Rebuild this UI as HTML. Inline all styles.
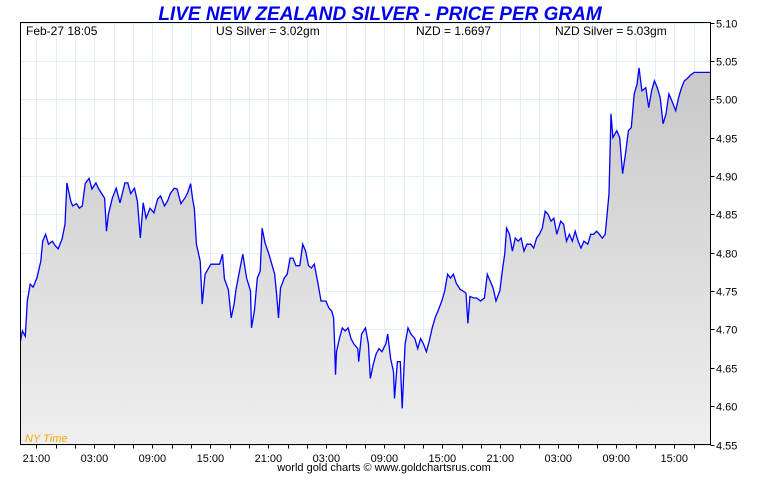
<!DOCTYPE html>
<html><head><meta charset="utf-8"><style>
body{margin:0;background:#fff;}
svg text{font-family:"Liberation Sans",sans-serif;}
</style></head><body>
<svg id="chart" width="760" height="475" viewBox="0 0 760 475" xmlns="http://www.w3.org/2000/svg">
<defs>
<linearGradient id="fillg" x1="0" y1="0" x2="0" y2="1">
<stop offset="0" stop-color="#c8c8c8"/><stop offset="1" stop-color="#efefef"/>
</linearGradient>
</defs>
<text x="380" y="20" text-anchor="middle" font-size="19" font-weight="bold" font-style="italic" fill="#0000ee">LIVE NEW ZEALAND SILVER - PRICE PER GRAM</text>
<g id="grid"></g>
<path id="area" fill="url(#fillg)"></path>
<path id="line" fill="none" stroke="#0000ff" stroke-width="1.3"></path>
<rect x="20.5" y="22.5" width="690" height="422" fill="none" stroke="#000" stroke-width="1"/>
<g id="yaxis"></g>
<g id="xaxis"></g>
<text x="26" y="35" font-size="12" fill="#000">Feb-27  18:05</text>
<text x="216" y="35" font-size="12" fill="#000">US Silver = 3.02gm</text>
<text x="416" y="35" font-size="12" fill="#000">NZD = 1.6697</text>
<text x="555" y="35" font-size="12" fill="#000">NZD Silver = 5.03gm</text>
<text x="25" y="442" font-size="11" font-style="italic" fill="#f5a800">NY Time</text>
<text x="384" y="471" text-anchor="middle" font-size="11" fill="#000">world gold charts © www.goldchartsrus.com</text>
</svg>
<script>
const times=[0,0.2,0.5,0.7,1.0,1.3,1.7,2.1,2.3,2.6,2.9,3.3,3.6,3.9,4.3,4.6,4.8,5.2,5.4,5.8,6.1,6.4,6.7,7.1,7.4,7.8,8.1,8.4,8.7,8.9,9.1,9.5,9.9,10.3,10.8,11.1,11.4,11.8,12.1,12.4,12.7,13.0,13.4,13.8,14.2,14.5,14.9,15.2,15.5,15.9,16.2,16.6,17.0,17.3,17.6,17.8,18.0,18.2,18.6,18.8,19.1,19.7,20.2,20.6,20.9,21.1,21.5,21.8,22.1,22.3,22.8,23.0,23.4,23.8,23.9,24.2,24.5,24.8,25.0,25.3,25.7,26.0,26.3,26.5,26.7,26.9,27.3,27.6,27.9,28.2,28.5,28.9,29.2,29.5,29.8,30.1,30.4,30.8,31.1,31.6,31.9,32.2,32.4,32.5,32.6,32.7,33.0,33.3,33.6,33.9,34.2,34.5,34.9,35.0,35.3,35.7,36.0,36.2,36.5,36.8,37.1,37.4,37.8,38.0,38.3,38.6,38.7,39.0,39.3,39.5,39.8,40.1,40.4,40.8,41.1,41.4,41.7,42.0,42.3,42.6,42.9,43.2,43.6,43.9,44.2,44.5,44.8,45.1,45.5,45.8,46.1,46.3,46.5,46.9,47.2,47.6,48.0,48.3,48.6,48.9,49.2,49.6,49.9,50.1,50.3,50.6,50.9,51.2,51.5,51.8,52.1,52.4,52.8,53.1,53.4,53.7,54.0,54.3,54.6,54.9,55.2,55.5,55.9,56.2,56.5,56.8,57.1,57.4,57.7,58.0,58.3,58.7,59.0,59.3,59.6,59.9,60.2,60.5,60.7,60.9,61.1,61.3,61.7,62.0,62.3,62.6,62.9,63.2,63.5,63.8,64.0,64.3,64.7,65.0,65.3,65.6,65.9,66.2,66.5,66.8,67.1,67.4,67.8,68.1,68.4,68.7,69.0,69.3,69.7,70.1,71.4];
const prices=[4.685,4.698,4.691,4.737,4.759,4.755,4.767,4.789,4.815,4.824,4.811,4.815,4.809,4.805,4.818,4.837,4.891,4.867,4.861,4.864,4.858,4.861,4.890,4.897,4.883,4.891,4.883,4.877,4.871,4.828,4.850,4.871,4.884,4.865,4.891,4.891,4.877,4.884,4.867,4.819,4.865,4.845,4.858,4.852,4.870,4.874,4.861,4.867,4.877,4.884,4.883,4.864,4.871,4.878,4.890,4.871,4.857,4.811,4.789,4.733,4.772,4.785,4.785,4.785,4.798,4.766,4.752,4.715,4.733,4.752,4.785,4.798,4.767,4.750,4.702,4.724,4.767,4.776,4.832,4.813,4.798,4.785,4.772,4.746,4.715,4.754,4.767,4.772,4.793,4.793,4.783,4.783,4.811,4.802,4.783,4.780,4.785,4.759,4.737,4.737,4.728,4.724,4.715,4.681,4.641,4.671,4.688,4.702,4.698,4.702,4.688,4.681,4.675,4.658,4.694,4.702,4.681,4.636,4.654,4.668,4.675,4.671,4.681,4.694,4.662,4.645,4.610,4.658,4.658,4.597,4.681,4.702,4.694,4.688,4.675,4.688,4.681,4.671,4.685,4.702,4.715,4.724,4.737,4.750,4.772,4.767,4.772,4.760,4.752,4.750,4.747,4.708,4.743,4.741,4.741,4.737,4.741,4.772,4.763,4.754,4.737,4.750,4.780,4.798,4.832,4.824,4.802,4.819,4.815,4.819,4.802,4.811,4.811,4.806,4.819,4.824,4.832,4.854,4.850,4.841,4.845,4.824,4.841,4.837,4.815,4.824,4.815,4.828,4.815,4.806,4.815,4.811,4.824,4.824,4.828,4.824,4.819,4.824,4.850,4.877,4.981,4.950,4.959,4.950,4.903,4.929,4.959,4.963,5.007,5.020,5.041,5.011,5.015,4.989,5.011,5.024,5.015,5.002,4.968,4.981,5.007,4.998,4.985,5.002,5.015,5.024,5.027,5.031,5.035,5.035,5.035];
const yTicks=["4.55","4.60","4.65","4.70","4.75","4.80","4.85","4.90","4.95","5.00","5.05","5.10"];
const xLabels=["21:00","03:00","09:00","15:00","21:00","03:00","09:00","15:00","21:00","03:00","09:00","15:00"];
const firstLabelHour=1.65;

const NS="http://www.w3.org/2000/svg";
const X0=20.5,X1=710.5,Y0=444.5,Y1=22.5,TMAX=71.4,PMIN=4.55,PMAX=5.10;
function xs(t){return X0+(t/TMAX)*(X1-X0);}
function ys(p){return Y0-(p-PMIN)/(PMAX-PMIN)*(Y0-Y1);}
function mk(tag,attrs,parent){const e=document.createElementNS(NS,tag);for(const k in attrs)e.setAttribute(k,attrs[k]);parent.appendChild(e);return e;}
const grid=document.getElementById('grid'),ya=document.getElementById('yaxis'),xa=document.getElementById('xaxis');
yTicks.forEach(v=>{
  const y=Math.round(ys(parseFloat(v)))+0.5;
  const g=mk('line',{x1:X0,x2:X1,y1:y,y2:y,stroke:'#e3eef8','stroke-width':1},grid);
  
  
  const tk=mk('line',{x1:X1,x2:X1+4,y1:y,y2:y,stroke:'#000'},ya);
  
  
  const t=mk('text',{x:716,y:y+4,'font-size':11,fill:'#000'},ya);
  t.textContent=v;
  
  
});
for(let h=firstLabelHour;h<TMAX;h+=2){
  const x=Math.round(xs(h))+0.5;
  const g=mk('line',{x1:x,x2:x,y1:Y1,y2:Y0,stroke:'#e3eef8','stroke-width':1},grid);
  
  
  const tk=mk('line',{x1:x,x2:x,y1:Y0,y2:Y0+4,stroke:'#000'},xa);
  
  
}
xLabels.forEach((l,i)=>{
  const x=xs(firstLabelHour+i*6);
  const t=mk('text',{x:x,y:462,'font-size':11,'text-anchor':'middle',fill:'#000'},xa);
  t.textContent=l;
  
  
});
let d='';
times.forEach((t,i)=>{d+=(i?'L':'M')+xs(t).toFixed(1)+','+ys(prices[i]).toFixed(1);});
document.getElementById('line').setAttribute('d',d);
document.getElementById('area').setAttribute('d',d+'L'+xs(times[times.length-1]).toFixed(1)+','+Y0+'L'+xs(times[0]).toFixed(1)+','+Y0+'Z');
</script>
</body></html>
